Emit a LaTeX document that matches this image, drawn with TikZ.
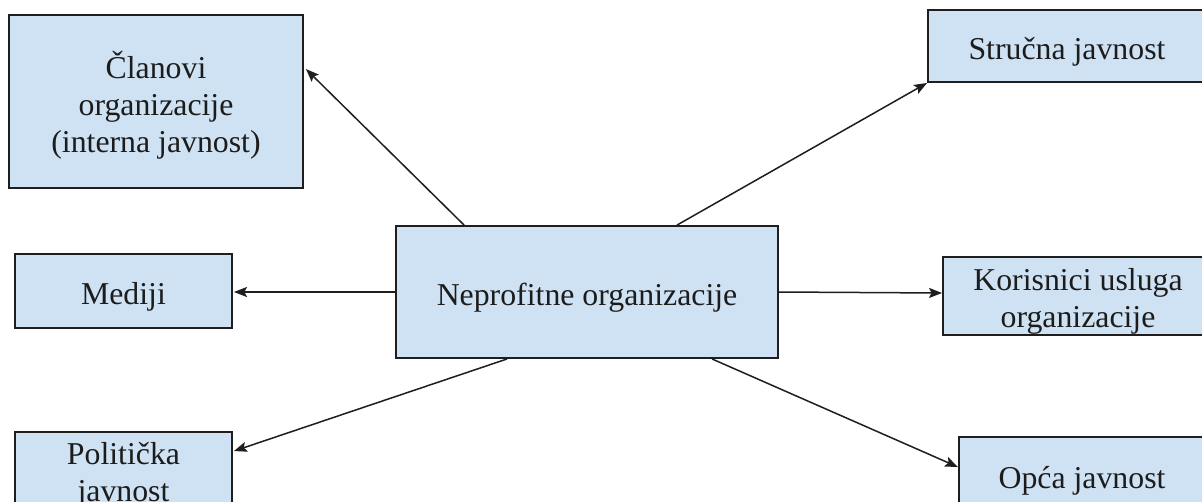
\documentclass[tikz,border=0pt]{standalone}
\usepackage{fontspec}
\setmainfont{Liberation Serif}
\usetikzlibrary{calc,arrows.meta}
\definecolor{boxfill}{HTML}{CFE2F3}
\definecolor{boxline}{HTML}{1E1E1E}
\definecolor{txt}{HTML}{1C1C1C}
\newcommand{\lowtxt}[1]{\raisebox{-6pt}[\height][\depth]{\begin{tabular}{@{}c@{}}#1\end{tabular}}}
\begin{document}
\begin{tikzpicture}[x=1pt,y=-1pt,
  box/.style={draw=boxline,line width=1.9pt,fill=boxfill,rectangle,inner sep=0pt,
    text=txt,font=\fontsize{31.8}{36.8}\selectfont},
  arr/.style={draw=boxline,line width=1.5pt,-{Stealth[length=13pt,width=10pt,inset=2.5pt]}}]
\clip (0,0) rectangle (1202,501);
\fill[white] (0,0) rectangle (1202,501);
\node[box,minimum width=294pt,minimum height=173pt] (A) at (156,101.5) {\lowtxt{Članovi\\organizacije\\(interna javnost)}};
\node[box,minimum width=278pt,minimum height=72pt] (S) at (1067,46) {\lowtxt{Stručna javnost}};
\node[box,minimum width=382pt,minimum height=132pt] (C) at (587,292) {\lowtxt{Neprofitne organizacije}};
\node[box,minimum width=217pt,minimum height=74pt] (M) at (123.5,291) {\lowtxt{Mediji}};
\node[box,minimum width=270pt,minimum height=78pt] (K) at (1078,296) {\lowtxt{Korisnici usluga\\organizacije}};
\node[box,minimum width=217pt,minimum height=76pt] (P) at (123.5,470) {\lowtxt{Politička\\javnost}};
\node[box,minimum width=246pt,minimum height=76pt] (O) at (1082,475) {\lowtxt{Opća javnost}};
\coordinate (a1) at ($(C.north west)+(69,0)$);
\coordinate (a2) at ($(A.north east)+(2,55)$);
\coordinate (s1) at ($(C.north west)+(282,0)$);
\coordinate (s2) at ($(S.south west)+(0,0)$);
\coordinate (p1) at ($(C.south west)+(112,0)$);
\coordinate (p2) at ($(P.north east)+(1,20)$);
\coordinate (o1) at ($(C.south west)+(317,0)$);
\coordinate (o2) at ($(O.north west)+(0,31)$);
\draw[arr] (a1) -- (a2);
\draw[arr] (s1) -- (s2);
\draw[arr] (C.west) -- ($(M.east)+(1,1)$);
\draw[arr] (C.east) -- ($(K.west)+(0,-3)$);
\draw[arr] (p1) -- (p2);
\draw[arr] (o1) -- (o2);
\end{tikzpicture}
\end{document}
